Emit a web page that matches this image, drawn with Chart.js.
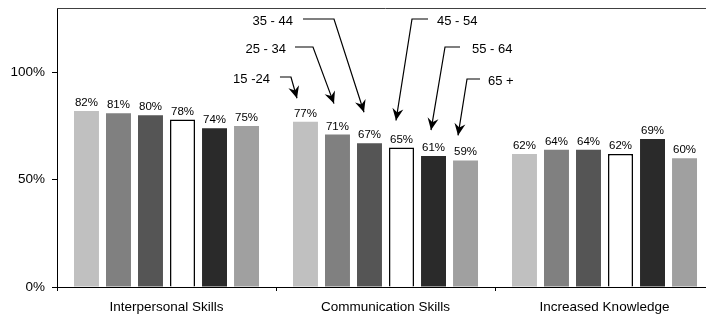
<!DOCTYPE html>
<html><head><meta charset="utf-8">
<script src="https://cdn.jsdelivr.net/npm/chart.js@4/dist/chart.umd.min.js"></script>
<style>html,body{margin:0;padding:0;background:#fff;overflow:hidden}#wrap{width:716px;height:316px;position:relative}</style>
</head><body><div id="wrap"><canvas id="c"></canvas></div>
<script>
const categories = ['Interpersonal Skills', 'Communication Skills', 'Increased Knowledge'];
const ageGroups = ['15 -24', '25 - 34', '35 - 44', '45 - 54', '55 - 64', '65 +'];
const age15_24 = [82, 77, 62];
const age25_34 = [81, 71, 64];
const age35_44 = [80, 67, 64];
const age45_54 = [78, 65, 62];
const age55_64 = [74, 61, 69];
const age65plus = [75, 59, 60];
const yTickValues = [0, 50, 100];

const seriesValues = [age15_24, age25_34, age35_44, age45_54, age55_64, age65plus];
const fills = ['#c0c0c0', '#808080', '#555555', '#ffffff', '#2a2a2a', '#a0a0a0'];
const FONT = "'Liberation Sans', Arial, sans-serif";

// callout styling: offsets relative to the bar in the "Communication Skills" group
const callouts = [
  {side: 'L', lineY: 69, hFar: -25.5, corner: -14.5, text: -35.5, tipDx: -8.5, tipUp: 23.5},
  {side: 'L', lineY: 39, hFar: -42.5, corner: -24.5, text: -51.5, tipDx: -3.5, tipUp: 31},
  {side: 'L', lineY: 11, hFar: -66.5, corner: -35.5, text: -76.5, tipDx: -5.5, tipUp: 31},
  {side: 'R', lineY: 11, hFar: 26.5, corner: 10.5, text: 35.5, tipDx: -5.5, tipUp: 27},
  {side: 'R', lineY: 39, hFar: 26.5, corner: 11.5, text: 38.5, tipDx: -2.5, tipUp: 26},
  {side: 'R', lineY: 71, hFar: 14.5, corner: 1.5, text: 22.5, tipDx: -7.5, tipUp: 25}
];
const calloutCategory = 1;

const datasets = ageGroups.map((g, i) => ({
  label: g,
  data: seriesValues[i],
  backgroundColor: fills[i],
  borderColor: i === 3 ? '#000000' : fills[i],
  borderWidth: i === 3 ? 1.5 : 0,
  categoryPercentage: 0.877,
  barPercentage: 0.78
}));

const decorPlugin = {
  id: 'decor',
  afterDatasetsDraw(chart) {
    const ctx = chart.ctx;
    const area = chart.chartArea;
    ctx.save();
    ctx.strokeStyle = '#404040';
    ctx.lineWidth = 1;
    ctx.beginPath();
    ctx.moveTo(area.left, area.top + 0.5);
    ctx.lineTo(area.right, area.top + 0.5);
    ctx.stroke();
    ctx.fillStyle = '#000';
    ctx.font = '11.5px ' + FONT;
    ctx.textAlign = 'center';
    ctx.textBaseline = 'alphabetic';
    chart.data.datasets.forEach((ds, di) => {
      const meta = chart.getDatasetMeta(di);
      meta.data.forEach((bar, j) => {
        ctx.fillText(ds.data[j] + '%', bar.x, bar.y - 5);
      });
    });
    ctx.font = '13px ' + FONT;
    ctx.textBaseline = 'middle';
    ctx.strokeStyle = '#000';
    ctx.lineWidth = 1.2;
    callouts.forEach((c, di) => {
      const bar = chart.getDatasetMeta(di).data[calloutCategory];
      const bx = bar.x;
      const ly = area.top + c.lineY;
      const tipX = bx + c.tipDx, tipY = bar.y - c.tipUp;
      const cx = bx + c.corner;
      ctx.beginPath();
      ctx.moveTo(bx + c.hFar, ly);
      ctx.lineTo(cx, ly);
      ctx.lineTo(tipX, tipY);
      ctx.stroke();
      const ang = Math.atan2(tipY - ly, tipX - cx);
      const L = 12, W = 5.5, N = 8;
      ctx.save();
      ctx.translate(tipX, tipY);
      ctx.rotate(ang);
      ctx.fillStyle = '#000';
      ctx.beginPath();
      ctx.moveTo(0, 0);
      ctx.lineTo(-L, -W);
      ctx.lineTo(-N, 0);
      ctx.lineTo(-L, W);
      ctx.closePath();
      ctx.fill();
      ctx.restore();
      ctx.textAlign = c.side === 'L' ? 'right' : 'left';
      ctx.fillText(chart.data.datasets[di].label, bx + c.text, ly + 2);
    });
    ctx.restore();
  }
};

new Chart(document.getElementById('c'), {
  type: 'bar',
  data: {labels: categories, datasets},
  options: {
    responsive: true,
    maintainAspectRatio: false,
    animation: false,
    devicePixelRatio: 1,
    layout: {padding: {top: 8, right: 2, left: 0, bottom: 0}},
    plugins: {legend: {display: false}, tooltip: {enabled: false}},
    scales: {
      x: {
        offset: true,
        grid: {offset: true, drawOnChartArea: false, tickLength: 4, color: '#000'},
        border: {color: '#000', width: 1},
        ticks: {color: '#000', font: {family: FONT, size: 13.5}, padding: 8, maxRotation: 0},
        afterFit(s) { s.height = 29; s.paddingLeft = 0; s.paddingRight = 0; }
      },
      y: {
        min: 0,
        max: 130,
        afterBuildTicks(s) { s.ticks = yTickValues.map(v => ({value: v})); },
        ticks: {color: '#000', font: {family: FONT, size: 13.5}, padding: 7, callback: v => v + '%'},
        grid: {drawOnChartArea: false, tickLength: 5, color: '#000'},
        border: {color: '#000', width: 1},
        afterFit(s) { s.width = 57; s.paddingTop = 0; s.paddingBottom = 0; }
      }
    }
  },
  plugins: [decorPlugin]
});
</script>
</body></html>
